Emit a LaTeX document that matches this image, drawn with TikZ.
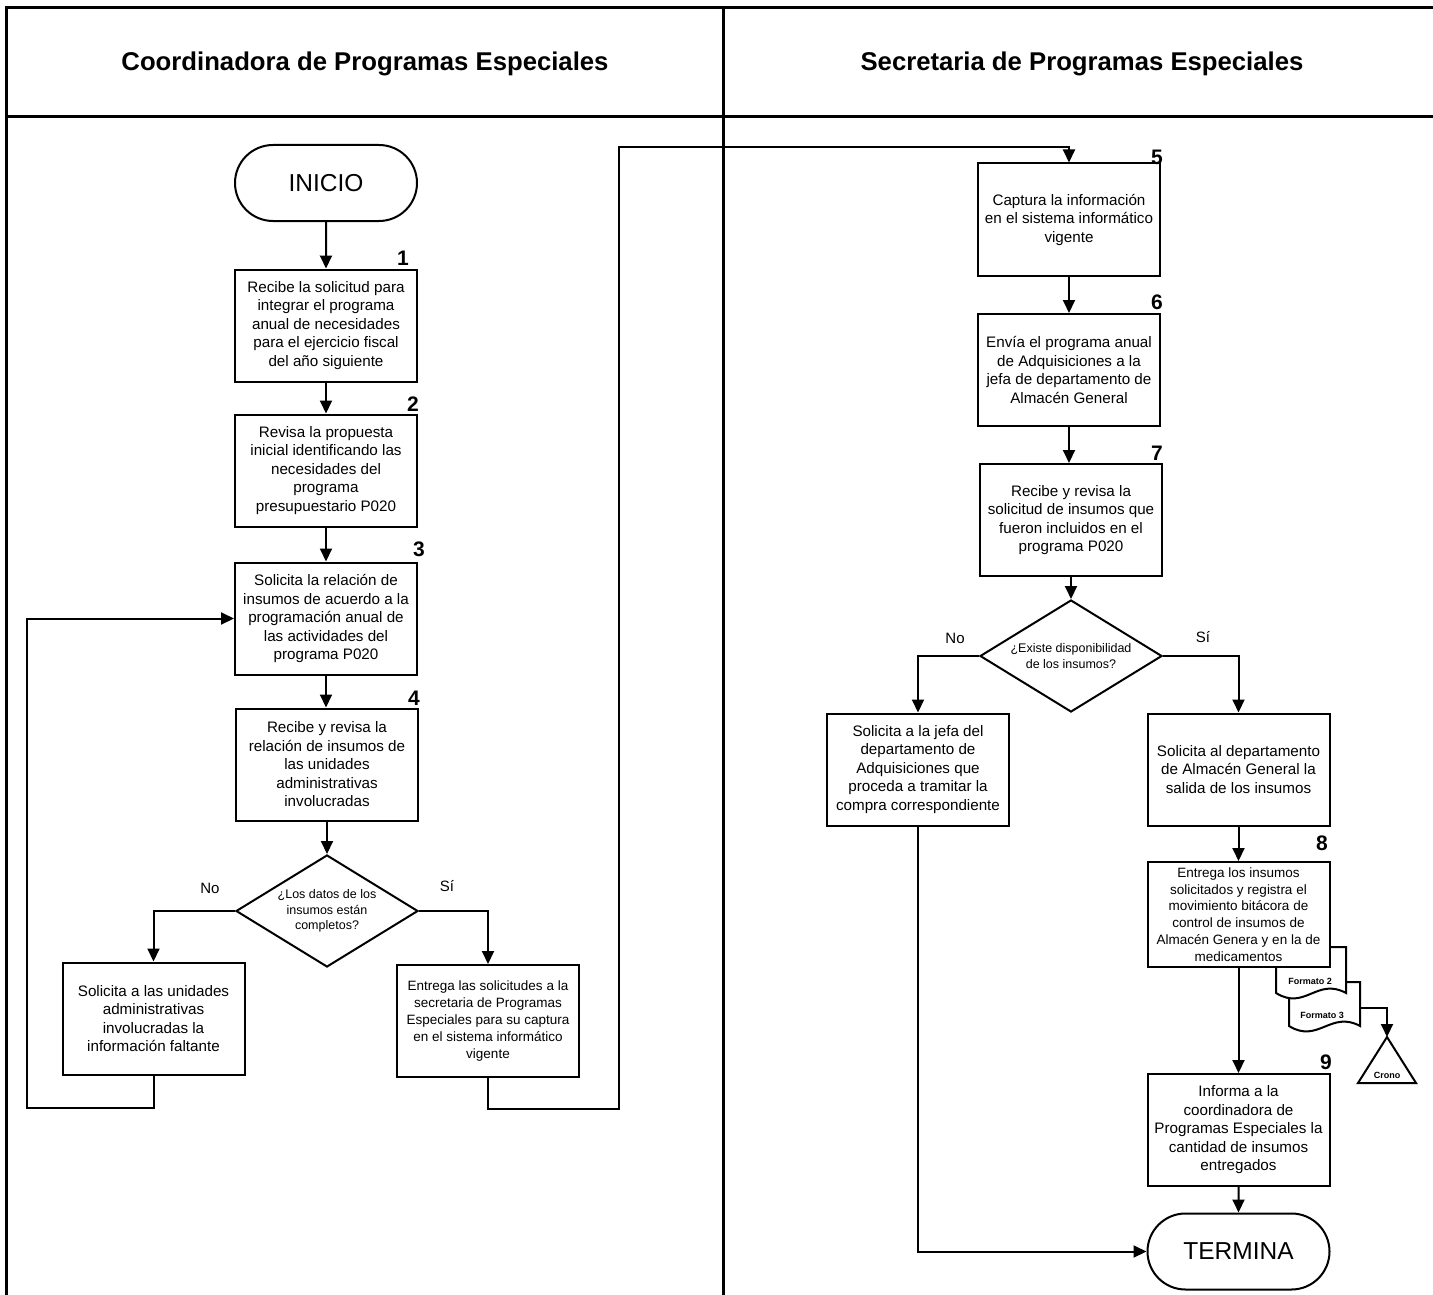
\documentclass[tikz,border=0pt]{standalone}
\usepackage{fontspec}
\setmainfont{Liberation Sans}
\usetikzlibrary{arrows.meta,shapes.geometric,shapes.misc}
\tikzset{
  stepbox/.style={draw, line width=2pt, fill=white, minimum width=182pt, minimum height=112pt, inner sep=0pt, align=center, font=\fontsize{15.2}{18.5}\selectfont},
  smallbox/.style={stepbox, font=\fontsize{13.5}{16.8}\selectfont},
  termbox/.style={draw, rounded rectangle, line width=2pt, fill=white, minimum width=182pt, minimum height=76pt, inner sep=0pt, font=\fontsize{24.5}{28}\selectfont},
  decbox/.style={draw, diamond, line width=2pt, fill=white, minimum width=182pt, minimum height=112pt, inner sep=0pt, aspect=1.63, align=center, font=\fontsize{12.5}{15.5}\selectfont},
  numlbl/.style={font=\bfseries\fontsize{21}{21}\selectfont, inner sep=0pt},
  anslbl/.style={font=\fontsize{15}{15}\selectfont, inner sep=0pt},
  conn/.style={line width=2pt, -{Triangle[length=13pt,width=12pt]}},
  plain/.style={line width=2pt},
  frame/.style={line width=3pt},
  docshape/.style={draw, line width=2pt, fill=white},
  tinylbl/.style={font=\bfseries\fontsize{9}{9}\selectfont, inner sep=0pt},
  title/.style={font=\bfseries\fontsize{25.7}{28}\selectfont, inner sep=0pt}
}
\begin{document}
\begin{tikzpicture}[x=1pt,y=-1pt]
\useasboundingbox (0,0) rectangle (1433,1295);
\fill[white] (0,0) rectangle (1433,1295);

% frame
\draw[frame] (6,1295) -- (6,8) -- (1433,8);
\draw[frame] (6,117) -- (1433,117);
\draw[frame] (723,8) -- (723,1295);
\node[title] (t1) at (365,64) {Coordinadora de Programas Especiales};
\node[title] (t2) at (1082,64) {Secretaria de Programas Especiales};

% left lane
\node[termbox] (inicio) at (326,183) {INICIO};
\node[stepbox] (b1) at (326,325.5) {Recibe la solicitud para\\integrar el programa\\anual de necesidades\\para el ejercicio fiscal\\del año siguiente};
\node[stepbox] (b2) at (326,470.5) {Revisa la propuesta\\inicial identificando las\\necesidades del\\programa\\presupuestario P020};
\node[stepbox] (b3) at (326,618.5) {Solicita la relación de\\insumos de acuerdo a la\\programación anual de\\las actividades del\\programa P020};
\node[stepbox] (b4) at (327,764.5) {Recibe y revisa la\\relación de insumos de\\las unidades\\administrativas\\involucradas};
\node[decbox] (d1) at (327,911) {¿Los datos de los\\insumos están\\completos?};
\node[stepbox] (bL) at (153.5,1018.5) {Solicita a las unidades\\administrativas\\involucradas la\\información faltante};
\node[smallbox] (bR) at (488,1021) {Entrega las solicitudes a la\\secretaria de Programas\\Especiales para su captura\\en el sistema informático\\vigente};

\node[numlbl] (n1) at (403,258) {1};
\node[numlbl] (n2) at (413,404) {2};
\node[numlbl] (n3) at (419,549) {3};
\node[numlbl] (n4) at (414,698) {4};
\node[anslbl] (no1) at (210,888) {No};
\node[anslbl] (si1) at (447,886) {Sí};

\draw[conn] (inicio) -- (b1);
\draw[conn] (b1) -- (b2);
\draw[conn] (b2) -- (b3);
\draw[conn] (b3.south) -- (b3.south |- b4.north);
\draw[conn] (b4) -- (d1);
\draw[conn] (d1.west) -| (bL.north);
\draw[conn] (d1.east) -| (bR.north);
\draw[conn] (bL.south) -- (153.5,1108) -- (27,1108) -- (27,618.5) -- (b3.west);

% right lane
\node[stepbox] (b5) at (1069,219.5) {Captura la información\\en el sistema informático\\vigente};
\node[stepbox] (b6) at (1069,370) {Envía el programa anual\\de Adquisiciones a la\\jefa de departamento de\\Almacén General};
\node[stepbox] (b7) at (1071,520) {Recibe y revisa la\\solicitud de insumos que\\fueron incluidos en el\\programa P020};
\node[decbox] (d2) at (1071,656) {¿Existe disponibilidad\\de los insumos?};
\node[stepbox] (bN) at (918,769.5) {Solicita a la jefa del\\departamento de\\Adquisiciones que\\proceda a tramitar la\\compra correspondiente};
\node[stepbox] (bS) at (1238.5,769.5) {Solicita al departamento\\de Almacén General la\\salida de los insumos};

% documents (behind box 8)
\draw[docshape] (1289,982) -- (1360,982) -- (1360,1026) .. controls (1331,1010) and (1318,1044) .. (1289,1026) -- cycle;
\node[tinylbl] (f3l) at (1322,1015) {Formato 3};
\draw[docshape] (1276,947) -- (1346,947) -- (1346,993) .. controls (1317,977) and (1305,1011) .. (1276,993) -- cycle;
\node[tinylbl] (f2l) at (1310,981) {Formato 2};

\node[smallbox, minimum height=105pt] (b8) at (1238.5,914.5) {Entrega los insumos\\solicitados y registra el\\movimiento bitácora de\\control de insumos de\\Almacén Genera y en la de\\medicamentos};
\node[stepbox] (b9) at (1238.5,1130) {Informa a la\\coordinadora de\\Programas Especiales la\\cantidad de insumos\\entregados};
\node[termbox] (termina) at (1238.5,1251.5) {TERMINA};

\coordinate (f3) at (1360,1008);
\coordinate (crono) at (1387,1037);
\draw[plain, fill=white] (crono) -- (1416,1083) -- (1358,1083) -- cycle;
\node[tinylbl] (cl) at (1387,1075) {Crono};

\node[numlbl] (n5) at (1157,157) {5};
\node[numlbl] (n6) at (1157,302) {6};
\node[numlbl] (n7) at (1157,453) {7};
\node[numlbl] (n8) at (1322,843) {8};
\node[numlbl] (n9) at (1326,1062) {9};
\node[anslbl] (no2) at (955,638) {No};
\node[anslbl] (si2) at (1203,637) {Sí};

\draw[conn] (bR.south) -- (488,1109) -- (619,1109) -- (619,147) -- (1069,147) -- (b5.north);
\draw[conn] (b5) -- (b6);
\draw[conn] (b6.south) -- (b6.south |- b7.north);
\draw[conn] (b7) -- (d2);
\draw[conn] (d2.west) -| (bN.north);
\draw[conn] (d2.east) -| (bS.north);
\draw[conn] (bS) -- (b8);
\draw[conn] (b8) -- (b9);
\draw[conn] (b9) -- (termina);
\draw[conn] (bN.south) |- (termina.west);
\draw[conn] (f3) -| (crono);
\end{tikzpicture}
\end{document}
